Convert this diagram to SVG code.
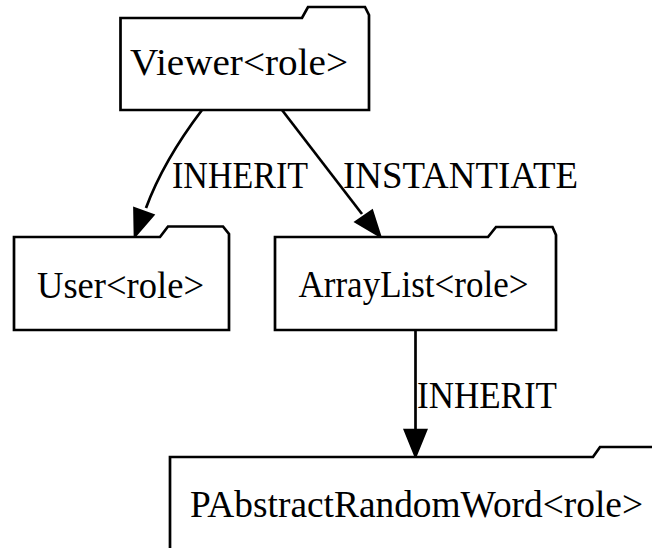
<svg xmlns="http://www.w3.org/2000/svg" width="652" height="548" viewBox="0 0 652 548">
<style>
.node path{fill:#fff;stroke:#000;stroke-width:2.7;stroke-linejoin:miter}
text{font-family:"Liberation Serif","Times New Roman",serif;font-size:38px;fill:#000}
.edge path{fill:none;stroke:#000;stroke-width:2.7}
.edge polygon{fill:#000;stroke:#000;stroke-width:2.7}
</style>
<rect width="652" height="548" fill="#fff"/>
<g id="connectors" class="edge">
<g id="e1">
<path d="M202,110 C183,135 160,170 146,208"/>
<polygon points="135,236 134.5,208.5 153,215"/>
<text x="172" y="188" textLength="136" lengthAdjust="spacingAndGlyphs">INHERIT</text>
</g>
<g id="e2">
<path d="M282,110 L362,214"/>
<polygon points="380,236 356,222 372,211"/>
<text x="343" y="187.5" textLength="235" lengthAdjust="spacingAndGlyphs">INSTANTIATE</text>
</g>
<g id="e3">
<path d="M415.5,330 L415.5,430"/>
<polygon points="415.5,456 405,430 426,430"/>
<text x="417" y="408" textLength="140" lengthAdjust="spacingAndGlyphs">INHERIT</text>
</g>
</g>
<g id="viewer" class="node">
<path d="M369,110 L120.5,110 L120.5,18 L302,18 L308,7 L365,7 L369,15 Z"/>
<text x="130" y="75" textLength="218" lengthAdjust="spacingAndGlyphs">Viewer&lt;role&gt;</text>
</g>
<g id="user" class="node">
<path d="M229,330 L14,330 L14,237 L160,237 L168,226.5 L223,226.5 L229,234 Z"/>
<text x="37" y="298" textLength="167" lengthAdjust="spacingAndGlyphs">User&lt;role&gt;</text>
</g>
<g id="arraylist" class="node">
<path d="M556,330 L275,330 L275,237 L488,237 L496,227 L552.5,227 L556,235 Z"/>
<text x="298.5" y="297" textLength="230" lengthAdjust="spacingAndGlyphs">ArrayList&lt;role&gt;</text>
</g>
<g id="pabstract" class="node">
<path d="M670,560 L170,560 L170,457 L593,457 L600,447 L670,447 Z"/>
<text x="190" y="517" textLength="453" lengthAdjust="spacingAndGlyphs">PAbstractRandomWord&lt;role&gt;</text>
</g>
</svg>
